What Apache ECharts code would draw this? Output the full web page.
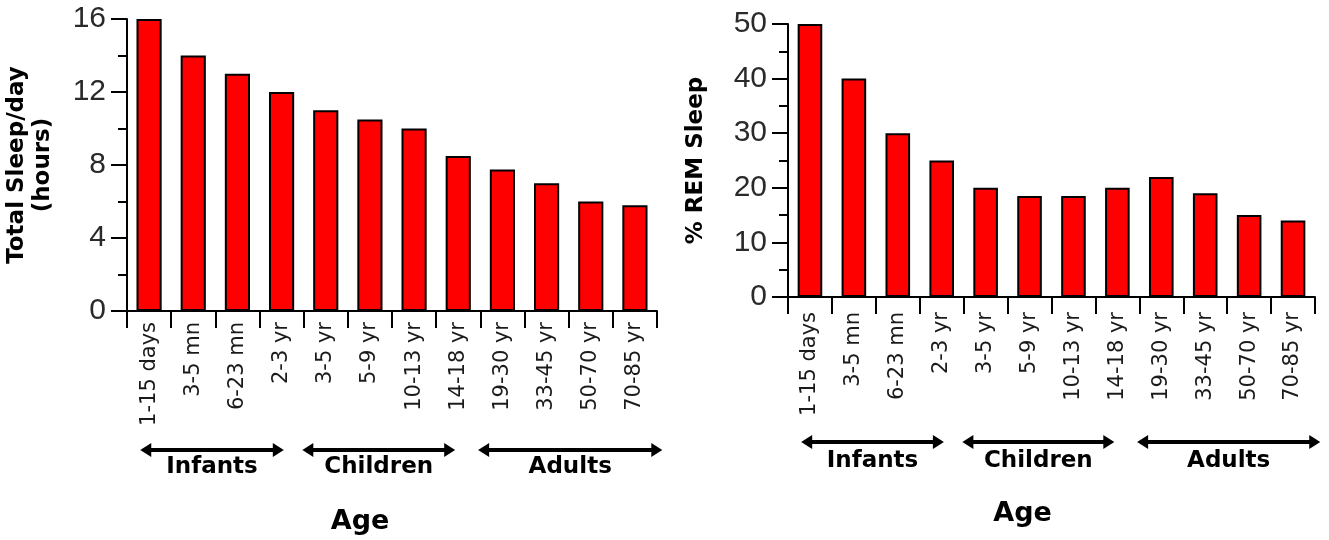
<!DOCTYPE html>
<html>
<head>
<meta charset="utf-8">
<script src="https://cdn.jsdelivr.net/npm/echarts@6/dist/echarts.min.js"></script>
<style>
html,body{margin:0;padding:0;background:#fff;}
#chart{width:1329px;height:540px;}
</style>
</head>
<body>
<div id="chart"></div>
<script>
// ---- data ----
var categories = ['1-15 days','3-5 mn','6-23 mn','2-3 yr','3-5 yr','5-9 yr','10-13 yr','14-18 yr','19-30 yr','33-45 yr','50-70 yr','70-85 yr'];
var totalSleep = [16, 14, 13, 12, 11, 10.5, 10, 8.5, 7.75, 7, 6, 5.8];
var remSleep = [50, 40, 30, 25, 20, 18.5, 18.5, 20, 22, 19, 15, 14];
var groupNames = ['Infants', 'Children', 'Adults'];
var groupStart = [-0.2, 3.47, 7.45];   // category positions (fractional index)
var groupEnd = [3.05, 6.93, 11.62];
var yTitles = ['Total Sleep/day\n(hours)', '% REM Sleep'];
var xTitle = 'Age';

var chart = echarts.init(document.getElementById('chart'), null, {renderer: 'canvas'});

var tickFont = {fontFamily: 'Liberation Sans', fontSize: 30, color: '#2a2a2a'};
var boldFont = 'DejaVu Sans';

function xAxisDef(idx, nameGap, labelMargin, nameShift) {
  return {
    type: 'category', gridIndex: idx, data: categories,
    axisLine: {lineStyle: {color: '#000', width: 2}},
    axisTick: {show: true, length: 17, lineStyle: {color: '#000', width: 2}, alignWithLabel: false},
    axisLabel: {rotate: 90, interval: 0, margin: labelMargin, fontFamily: 'DejaVu Sans', fontSize: 21, color: '#1a1a1a'},
    name: xTitle, nameLocation: 'middle', nameGap: nameGap,
    nameTextStyle: {fontFamily: boldFont, fontWeight: 'bold', fontSize: 27, color: '#000', padding: [0, nameShift * 2, 0, 0]}
  };
}
function yAxisDef(idx, max, interval, name, nameGap) {
  return {
    type: 'value', gridIndex: idx, min: 0, max: max, interval: interval,
    axisLine: {show: true, lineStyle: {color: '#000', width: 2}},
    axisTick: {show: true, length: 16, lineStyle: {color: '#000', width: 2}},
    minorTick: {show: true, splitNumber: 2, length: 9, lineStyle: {color: '#000', width: 2}},
    splitLine: {show: false},
    axisLabel: Object.assign({margin: 21}, tickFont),
    name: name, nameLocation: 'middle', nameRotate: 90, nameGap: nameGap,
    nameTextStyle: {fontFamily: boldFont, fontWeight: 'bold', fontSize: 23, lineHeight: 26, color: '#000', align: 'center'}
  };
}
var barStyle = {color: '#ff0000', borderColor: '#000', borderWidth: 2};

chart.setOption({
  animation: false,
  backgroundColor: '#fff',
  grid: [
    {left: 127, right: 672, top: 19, bottom: 229},
    {left: 788, right: 14, top: 24, bottom: 243}
  ],
  xAxis: [xAxisDef(0, 197, 11, 32), xAxisDef(1, 203, 15, 29)],
  yAxis: [yAxisDef(0, 16, 4, yTitles[0], 71), yAxisDef(1, 50, 10, yTitles[1], 79)],
  series: [
    {type: 'bar', xAxisIndex: 0, yAxisIndex: 0, data: totalSleep, barWidth: '57%', itemStyle: barStyle},
    {type: 'bar', xAxisIndex: 1, yAxisIndex: 1, data: remSleep, barWidth: '56%', itemStyle: barStyle}
  ]
});

function buildGroups(axisIdx, arrowY, labelY) {
  var p0 = chart.convertToPixel({xAxisIndex: axisIdx}, 0);
  var p1 = chart.convertToPixel({xAxisIndex: axisIdx}, 1);
  var step = p1 - p0;
  var els = [];
  for (var g = 0; g < groupNames.length; g++) {
    var xa = p0 + groupStart[g] * step;
    var xb = p0 + groupEnd[g] * step;
    els.push({type: 'line', shape: {x1: xa + 6, y1: arrowY, x2: xb - 6, y2: arrowY}, style: {stroke: '#000', lineWidth: 4}});
    els.push({type: 'polygon', shape: {points: [[xa, arrowY], [xa + 11, arrowY - 7], [xa + 11, arrowY + 7]]}, style: {fill: '#000'}});
    els.push({type: 'polygon', shape: {points: [[xb, arrowY], [xb - 11, arrowY - 7], [xb - 11, arrowY + 7]]}, style: {fill: '#000'}});
    els.push({type: 'text', x: (xa + xb) / 2, y: labelY, style: {text: groupNames[g], fontFamily: boldFont, fontWeight: 'bold', fontSize: 23, fill: '#000', align: 'center', verticalAlign: 'middle'}});
  }
  return els;
}
chart.setOption({graphic: buildGroups(0, 450, 467).concat(buildGroups(1, 442, 461))});
</script>
</body>
</html>
